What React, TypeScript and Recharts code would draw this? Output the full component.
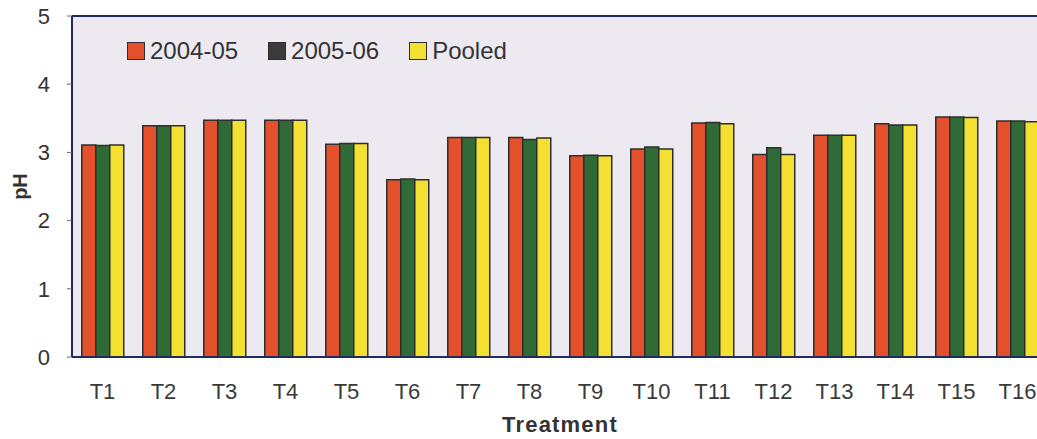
import React from 'react';
import { BarChart, Bar, XAxis, YAxis, CartesianGrid, Legend, ReferenceLine } from 'recharts';

const TREATMENTS = ['T1', 'T2', 'T3', 'T4', 'T5', 'T6', 'T7', 'T8', 'T9', 'T10', 'T11', 'T12', 'T13', 'T14', 'T15', 'T16'];
const PH_2004 = [3.11, 3.39, 3.47, 3.47, 3.12, 2.6, 3.22, 3.22, 2.95, 3.05, 3.43, 2.97, 3.25, 3.42, 3.52, 3.46];
const PH_2005 = [3.1, 3.39, 3.47, 3.47, 3.13, 2.61, 3.22, 3.19, 2.96, 3.08, 3.44, 3.07, 3.25, 3.4, 3.52, 3.46];
const PH_POOLED = [3.11, 3.39, 3.47, 3.47, 3.13, 2.6, 3.22, 3.21, 2.95, 3.05, 3.42, 2.97, 3.25, 3.4, 3.51, 3.45];
const Y_TICKS = [0, 1, 2, 3, 4, 5];

const data = TREATMENTS.map((t, i) => ({
  treatment: t,
  y2004: PH_2004[i],
  y2005: PH_2005[i],
  pooled: PH_POOLED[i],
}));

const FONT = "Arial, 'Liberation Sans', sans-serif";
const RED = '#E2512B';
const GREEN = '#2F6A37';
const YELLOW = '#F4E030';
const OUTLINE = '#2e2e2e';
const NAVY = '#1f2b5c';

// legend swatch for 2005-06 is printed dark grey in the original, not green
const SWATCH: Record<string, string> = { y2004: RED, y2005: '#3a3a3a', pooled: YELLOW };

function LegendRow({ payload }: any) {
  return (
    <div style={{ display: 'flex', alignItems: 'center', fontFamily: FONT, fontSize: 24, color: '#333', whiteSpace: 'nowrap' }}>
      {(payload || []).map((p: any) => (
        <div key={p.dataKey} style={{ display: 'flex', alignItems: 'center', marginRight: 30 }}>
          <span
            style={{
              display: 'inline-block',
              width: 16,
              height: 16,
              background: SWATCH[p.dataKey],
              border: `1.5px solid ${OUTLINE}`,
              marginRight: 5,
            }}
          />
          <span>{p.value}</span>
        </div>
      ))}
    </div>
  );
}

export default function App() {
  return (
    <div style={{ position: 'absolute', left: 0, top: 0, width: 1037, height: 439, overflow: 'hidden', background: '#fff' }}>
      <BarChart
        width={1060}
        height={439}
        data={data}
        margin={{ top: 16, right: 12, left: 0, bottom: 0 }}
        barCategoryGap="16%"
        barGap={0}
      >
        <CartesianGrid horizontal={false} vertical={false} fill="#ECEAF0" />
        <XAxis
          dataKey="treatment"
          height={82}
          tickLine={false}
          tickSize={0}
          tickMargin={26}
          axisLine={{ stroke: NAVY, strokeWidth: 2 }}
          tick={{ fontSize: 22, fill: '#3a3a3a', fontFamily: FONT }}
          interval={0}
          label={{ value: 'Treatment', position: 'insideBottom', offset: 7, style: { fontSize: 22, fontWeight: 'bold', fill: '#333', fontFamily: FONT, letterSpacing: 1.2 } }}
        />
        <YAxis
          width={72}
          domain={[0, 5]}
          ticks={Y_TICKS}
          tickSize={5}
          tickMargin={17}
          axisLine={{ stroke: NAVY, strokeWidth: 2 }}
          tickLine={{ stroke: '#666' }}
          tick={{ fontSize: 22, fill: '#333', fontFamily: FONT }}
          label={{ value: 'pH', angle: -90, position: 'insideLeft', offset: 20, style: { textAnchor: 'middle', fontSize: 20, fontWeight: 'bold', fill: '#333', fontFamily: FONT } }}
        />
        <ReferenceLine y={5} stroke={NAVY} strokeWidth={2} />
        <Legend
          layout="horizontal"
          verticalAlign="middle"
          align="center"
          content={<LegendRow />}
          wrapperStyle={{ top: 37, left: 127, width: 420, height: 26 }}
        />
        <Bar dataKey="y2004" name="2004-05" fill={RED} stroke={OUTLINE} strokeWidth={1.5} isAnimationActive={false} />
        <Bar dataKey="y2005" name="2005-06" fill={GREEN} stroke={OUTLINE} strokeWidth={1.5} isAnimationActive={false} />
        <Bar dataKey="pooled" name="Pooled" fill={YELLOW} stroke={OUTLINE} strokeWidth={1.5} isAnimationActive={false} />
      </BarChart>
    </div>
  );
}
